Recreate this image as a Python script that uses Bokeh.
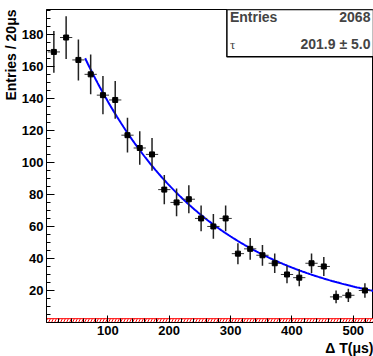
import numpy as np
from bokeh.plotting import figure
from bokeh.models import Range1d, FixedTicker, Label, ColumnDataSource, Title
from bokeh.embed import file_html
from bokeh.resources import INLINE

# ---- data ----
bin_centers = [12, 32, 52, 72, 92, 112, 132, 152, 172, 192, 212, 232, 252,
               272, 292, 312, 332, 352, 372, 392, 412, 432, 452, 472, 492, 519]
counts = [169, 178, 164, 155, 142, 139, 117, 109, 105, 83, 75, 77, 65,
          60, 65, 43, 46, 42, 37, 30, 28, 37, 35, 16, 17, 20]
bin_half_width = 10
background_level = 2.4

# fit (exponential decay) parameters
tau = 201.9
tau_err = 5.0
entries = 2068
fit_norm = 220.0
fit_const = 4.0
fit_start = 63.0

x_ticks = [100, 200, 300, 400, 500]
x_minor = [v for v in range(20, 540, 20) if v % 100 != 0]
y_ticks = [20, 40, 60, 80, 100, 120, 140, 160, 180]
y_minor = [v for v in range(5, 196, 5) if v % 20 != 0]

X_MIN, X_MAX = 0, 533
Y_MIN, Y_MAX = 0, 195.5

FONT = "Liberation Sans"

p = figure(width=373, height=356, output_backend="svg", toolbar_location=None,
           x_range=Range1d(X_MIN, X_MAX), y_range=Range1d(Y_MIN, Y_MAX),
           min_border_left=45, min_border_right=0, min_border_top=9,
           min_border_bottom=34)
p.background_fill_color = "white"
p.border_fill_color = "white"
p.outline_line_color = "black"
p.outline_line_width = 1
p.xgrid.visible = False
p.ygrid.visible = False

for ax in (p.xaxis[0], p.yaxis[0]):
    ax.axis_line_color = "black"
    ax.axis_line_width = 1
    ax.major_tick_line_color = "black"
    ax.minor_tick_line_color = "black"
    ax.major_tick_out = 0
    ax.minor_tick_out = 0
    ax.major_label_text_font = FONT
    ax.major_label_text_font_style = "bold"
    ax.major_label_text_font_size = "13px"
    ax.major_label_text_color = "black"

p.xaxis[0].ticker = FixedTicker(ticks=x_ticks, minor_ticks=x_minor)
p.xaxis[0].major_tick_in = 7
p.xaxis[0].minor_tick_in = 4
p.xaxis[0].major_label_standoff = 3

p.yaxis[0].ticker = FixedTicker(ticks=y_ticks, minor_ticks=y_minor)
p.yaxis[0].major_tick_in = 8
p.yaxis[0].minor_tick_in = 4
p.yaxis[0].major_label_standoff = 3

# red hatched background band
p.quad(left=[X_MIN], right=[X_MAX], bottom=[0], top=[background_level],
       fill_color="white", line_color="red", line_width=1,
       hatch_pattern="/", hatch_color="red", hatch_scale=6, hatch_weight=1)

# fit curve
t = np.linspace(fit_start, X_MAX, 300)
p.line(t, fit_norm * np.exp(-t / tau) + fit_const, line_color="#0000ff",
       line_width=2)

# data points with errors
x = np.array(bin_centers, dtype=float)
y = np.array(counts, dtype=float)
err = np.sqrt(y)
src = ColumnDataSource(dict(x=x, y=y, lo=y - err, hi=y + err,
                            xl=x - bin_half_width, xr=x + bin_half_width))
p.segment(x0="xl", y0="y", x1="xr", y1="y", source=src, line_color="#333333",
          line_width=1)
p.segment(x0="x", y0="lo", x1="x", y1="hi", source=src, line_color="#222222",
          line_width=1.5)
p.scatter("x", "y", source=src, marker="square", size=5, color="black")

# stats box
box_left, box_bottom = 294, 166
p.quad(left=[box_left], right=[X_MAX], bottom=[box_bottom], top=[Y_MAX],
       fill_color="white", line_color="black", line_width=1.5)
p.add_layout(Label(x=box_left + 5, y=190.6, text="Entries", text_font=FONT,
                   text_font_style="bold", text_font_size="14px",
                   text_baseline="middle", text_align="left"))
p.add_layout(Label(x=X_MAX - 5, y=190.6, text=f"{entries}", text_font=FONT,
                   text_font_style="bold", text_font_size="14px",
                   text_baseline="middle", text_align="right"))
p.add_layout(Label(x=box_left + 5, y=173.8, text="τ", text_font="Liberation Serif",
                   text_font_size="13px", text_baseline="middle",
                   text_align="left"))
p.add_layout(Label(x=X_MAX - 5, y=173.8, text=f"{tau:.1f} ± {tau_err:.1f}",
                   text_font=FONT, text_font_style="bold",
                   text_font_size="14px", text_baseline="middle",
                   text_align="right"))

# axis titles (aligned to the axis ends, ROOT style)
p.add_layout(Title(text="Entries / 20μs", align="right", text_font=FONT,
                   text_font_style="bold", text_font_size="14px",
                   text_color="black", standoff=0, offset=0), "left")
p.add_layout(Title(text="Δ T(μs)", align="right", text_font=FONT,
                   text_font_style="bold", text_font_size="14px",
                   text_color="black", standoff=0, offset=0), "below")

open("out.html", "w").write(file_html(p, INLINE))
